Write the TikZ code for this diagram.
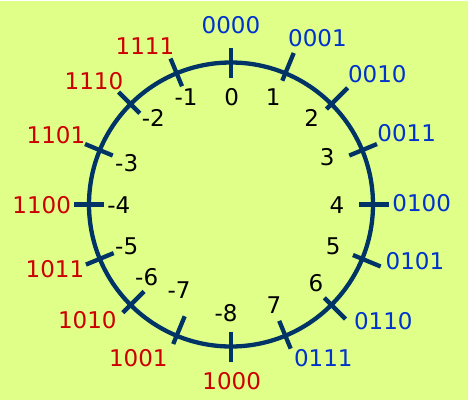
\documentclass[tikz,border=0pt]{standalone}
\usepackage{fontspec}
\setmainfont{DejaVu Sans}
\definecolor{bgyellow}{RGB}{224,255,136}
\definecolor{ringblue}{RGB}{0,51,102}
\definecolor{binblue}{RGB}{0,51,204}
\definecolor{binred}{RGB}{204,0,0}

\begin{document}
\begin{tikzpicture}[x=1pt,y=1pt,
every node/.style={font=\fontsize{23}{27}\selectfont,inner sep=0pt},
ring/.style={draw=ringblue,line width=4.3pt},
notch/.style={draw=ringblue,line width=4.3pt},
decnum/.style={text=black},
binnum/.style={}
]
\fill[bgyellow] (-231,203.5) rectangle (237,-195.5);
\useasboundingbox (-231,204.5) rectangle (239,-195.5);
\draw[ring] (0,0) circle (142);
\foreach \k/\ri in {0/127,1/134,2/135,3/128,4/128,5/132,6/132,7/126,8/127,9/121,10/123,11/127,12/127,13/128,14/129,15/128}
  \draw[notch] ({90-22.5*\k}:\ri) -- ({90-22.5*\k}:\ri+30);
% binary words
\foreach \k/\x/\y/\t/\c in {0/0/179.5/0000/binblue,1/86.5/166.5/0001/binblue,2/146.3/130.5/0010/binblue,3/175.7/71.2/0011/binblue,4/190.7/1.2/0100/binblue,5/184/-56.5/0101/binblue,6/152.3/-116.2/0110/binblue,7/92.3/-153.2/0111/binblue,8/0.7/-176.5/1000/binred,9/-92.7/-153.8/1001/binred,10/-143.7/-115.5/1010/binred,11/-176/-64.8/1011/binred,12/-189.3/-0.5/1100/binred,13/-175/69.5/1101/binred,14/-137/123.5/1110/binred,15/-86/158.8/1111/binred}
  \node[binnum,text=\c] (b\k) at (\x,\y) {\t};
% decimal values
\foreach \k/\x/\y/\t in {0/0.7/107/0,1/42.3/107/1,2/80.7/86.2/2,3/96.3/47.8/3,4/106/-0.5/4,5/102.3/-41.5/5,6/85/-78.2/6,7/43/-100.5/7,8/-5/-108.8/-8,9/-52/-85.5/-7,10/-84.3/-72.2/-6,11/-104.3/-41.5/-5,12/-112.2/-0.5/-4,13/-104.3/41.2/-3,14/-77.7/86.2/-2,15/-45/107.2/-1}
  \node[decnum] (d\k) at (\x,\y) {\t};
\end{tikzpicture}
\end{document}
